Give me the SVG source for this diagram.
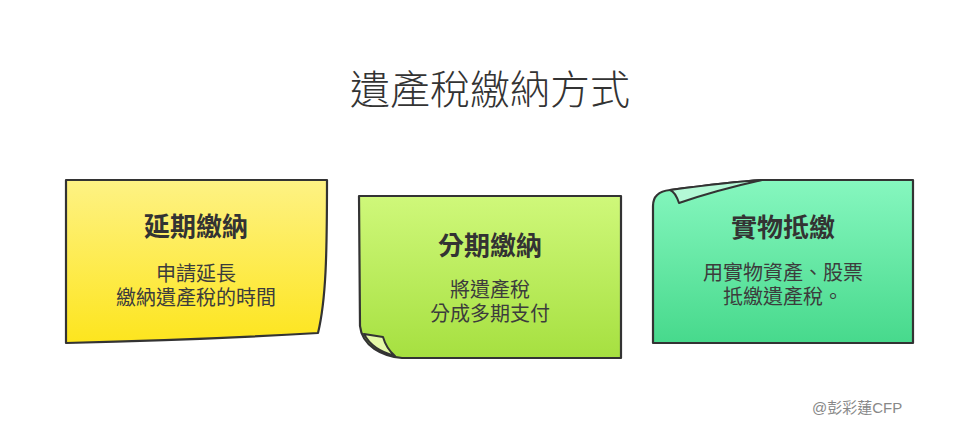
<svg xmlns="http://www.w3.org/2000/svg" width="980" height="442" viewBox="0 0 980 442">
<style>
  text { font-family: "Noto Sans CJK TC", "Noto Sans CJK SC", sans-serif; text-anchor: middle; }
  .title { font-size: 40px; fill: #333; font-weight: 300; }
  .head { font-size: 26px; font-weight: 700; fill: #333; }
  .body { font-size: 20px; fill: #3c3c3c; }
  .note { stroke: #333; stroke-width: 2.2; stroke-linejoin: round; }
  .flap { stroke: #333; stroke-width: 2; stroke-linejoin: round; }
  .mark { font-size: 15px; fill: #888; font-family: "Liberation Sans", "Noto Sans CJK TC", sans-serif; text-anchor: start; }
</style>
<defs>
  <linearGradient id="gY" x1="0" y1="0" x2="0" y2="1">
    <stop offset="0" stop-color="#fef284"/>
    <stop offset="1" stop-color="#fde51e"/>
  </linearGradient>
  <linearGradient id="gL" x1="0" y1="0" x2="0" y2="1">
    <stop offset="0" stop-color="#cff87a"/>
    <stop offset="1" stop-color="#a6e040"/>
  </linearGradient>
  <linearGradient id="gG" x1="0" y1="0" x2="0" y2="1">
    <stop offset="0" stop-color="#86f7bf"/>
    <stop offset="1" stop-color="#47d98c"/>
  </linearGradient>
</defs>
<rect width="980" height="442" fill="#ffffff"/>
<text class="title" x="490" y="104">遺產稅繳納方式</text>

<g id="node-deferral">
  <path class="note" fill="url(#gY)" d="M66,180 L327,180 C327,255 326,300 318,333 C250,337 150,341 66,343 Z"/>
  <text class="head" x="196" y="236">延期繳納</text>
  <text class="body" x="196" y="281">申請延長</text>
  <text class="body" x="196" y="305">繳納遺產稅的時間</text>
</g>

<g id="node-installment">
  <path class="note" fill="url(#gL)" d="M359,196 L621,196 L621,358 L402,358 C382,356 362,346 360,326 Z"/>
  <path class="flap" fill="#e4f8a8" d="M364,334 L383,337 C385,344 388,350 395,356 C380,352 370,346 364,334 Z"/>
  <text class="head" x="490" y="255">分期繳納</text>
  <text class="body" x="490" y="297">將遺產稅</text>
  <text class="body" x="490" y="321">分成多期支付</text>
</g>

<g id="node-inkind">
  <path class="note" fill="url(#gG)" d="M913,180 L913,343 L653,343 L653,206 C653,196 660,191 670,190 C700,186 730,182 762,180 Z"/>
  <path class="flap" fill="#b4f9d6" d="M670,190 C700,186 730,182 762,180 C735,186 705,194 679,203 C677,197 675,192 670,190 Z"/>
  <text class="head" x="783" y="237">實物抵繳</text>
  <text class="body" x="783" y="280">用實物資產、股票</text>
  <text class="body" x="783" y="304">抵繳遺產稅。</text>
</g>

<g id="connectors"></g>

<text class="mark" x="812" y="413">@彭彩蓮CFP</text>
</svg>
